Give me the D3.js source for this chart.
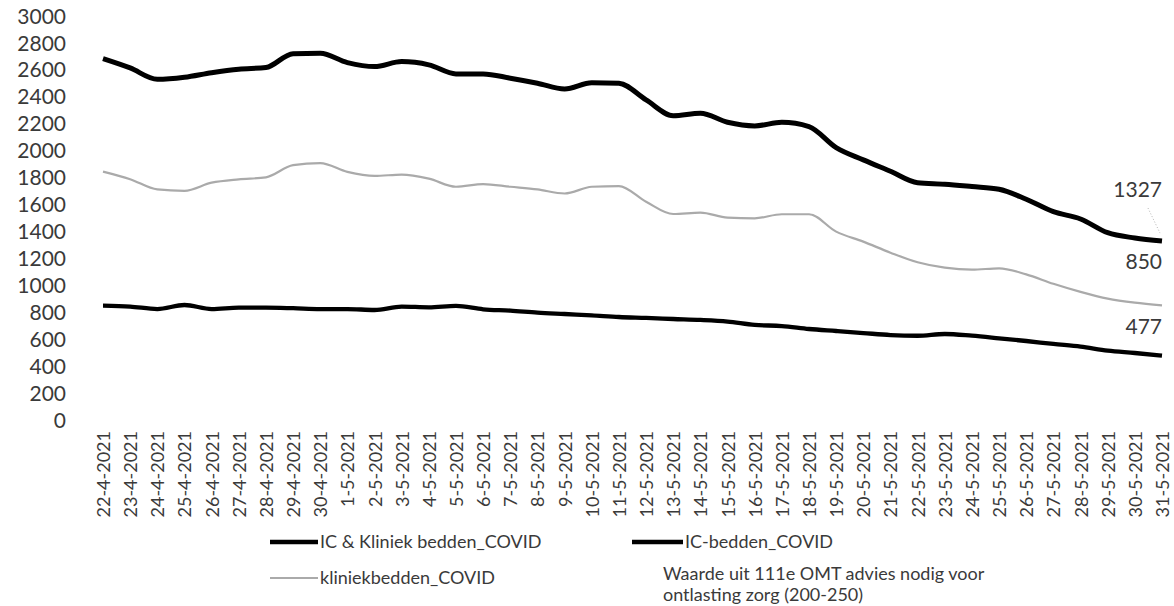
<!DOCTYPE html>
<html>
<head>
<meta charset="utf-8">
<script src="https://cdn.jsdelivr.net/npm/d3@7"></script>
<style>
  html, body { margin: 0; padding: 0; background: #fff; }
  svg { display: block; }
  text { font-family: Lato, "Open Sans", sans-serif; fill: #3a3a3a; }
</style>
</head>
<body>
<svg id="chart" width="1174" height="606"></svg>
<script>
const dates = ["22-4-2021","23-4-2021","24-4-2021","25-4-2021","26-4-2021","27-4-2021","28-4-2021","29-4-2021","30-4-2021",
  "1-5-2021","2-5-2021","3-5-2021","4-5-2021","5-5-2021","6-5-2021","7-5-2021","8-5-2021","9-5-2021","10-5-2021",
  "11-5-2021","12-5-2021","13-5-2021","14-5-2021","15-5-2021","16-5-2021","17-5-2021","18-5-2021","19-5-2021","20-5-2021",
  "21-5-2021","22-5-2021","23-5-2021","24-5-2021","25-5-2021","26-5-2021","27-5-2021","28-5-2021","29-5-2021","30-5-2021","31-5-2021"];

const totalBeds = [2680,2611,2527,2542,2576,2602,2614,2717,2720,2651,2621,2658,2634,2567,2567,2535,2498,2455,2502,2498,
  2374,2257,2275,2208,2181,2208,2176,2020,1929,1845,1760,1749,1731,1711,1637,1545,1491,1389,1350,1327];

const icBeds = [848,841,823,853,823,833,833,829,823,823,816,841,836,846,821,811,796,786,776,764,
  757,749,742,730,705,697,675,660,645,630,625,638,625,606,586,564,544,515,497,477];

const clinicBeds = [1842,1786,1710,1700,1760,1785,1800,1890,1905,1840,1810,1820,1790,1730,1750,1730,1710,1680,1730,1735,
  1619,1528,1538,1501,1496,1526,1526,1397,1323,1241,1170,1130,1115,1125,1080,1010,950,900,870,850];

const yTicks = [0,200,400,600,800,1000,1200,1400,1600,1800,2000,2200,2400,2600,2800,3000];

const seriesNames = ["IC & Kliniek bedden_COVID","IC-bedden_COVID","kliniekbedden_COVID"];
const omtNote = ["Waarde uit 111e OMT advies nodig voor","ontlasting zorg (200-250)"];

const svg = d3.select("#chart");
svg.append("rect").attr("width",1174).attr("height",606).attr("fill","#fff");

const x = d3.scalePoint().domain(dates).range([103, 1162]);
const y = d3.scaleLinear().domain([0, 3000]).range([420, 15.5]);

// Y axis (labels only)
const yAxis = d3.axisLeft(y).tickValues(yTicks).tickSize(0).tickPadding(0).tickFormat(d3.format("d"));
const gy = svg.append("g").attr("transform","translate(66,0)").call(yAxis);
gy.select(".domain").remove();
gy.selectAll("text").style("font-size","21px").attr("fill","#3a3a3a").attr("dy","0.36em");

// X axis (rotated labels only)
const xAxis = d3.axisBottom(x).tickSize(0).tickPadding(0);
const gx = svg.append("g").attr("transform","translate(0,431)").call(xAxis);
gx.select(".domain").remove();
gx.selectAll("text")
  .style("font-size","18px")
  .attr("fill","#3a3a3a")
  .attr("text-anchor","end")
  .attr("transform","rotate(-90)")
  .attr("x",0).attr("y",0).attr("dx",0).attr("dy","0.36em");

const line = d3.line().x((d,i)=>x(dates[i])).y(d=>y(d)).curve(d3.curveMonotoneX);

svg.append("path").datum(clinicBeds).attr("d",line)
  .attr("fill","none").attr("stroke","#aaaaaa").attr("stroke-width",2.2);
svg.append("path").datum(icBeds).attr("d",line)
  .attr("fill","none").attr("stroke","#000").attr("stroke-width",4.3).attr("stroke-linejoin","round");
svg.append("path").datum(totalBeds).attr("d",line)
  .attr("fill","none").attr("stroke","#000").attr("stroke-width",5).attr("stroke-linejoin","round");

// End data labels
const last = dates.length - 1;
const lx = x(dates[last]);
svg.append("line")
  .attr("x1", lx - 14).attr("y1", y(totalBeds[last]) - 33)
  .attr("x2", lx - 2).attr("y2", y(totalBeds[last]) - 8)
  .attr("stroke","#b5b5b5").attr("stroke-width",1).attr("stroke-dasharray","1,2");
const labelData = [
  {v: totalBeds[last], dy: -52},
  {v: clinicBeds[last], dy: -44},
  {v: icBeds[last], dy: -29}
];
svg.selectAll("text.dl").data(labelData).enter().append("text")
  .attr("class","dl")
  .attr("x", lx)
  .attr("y", d => y(d.v) + d.dy)
  .attr("text-anchor","end")
  .attr("dy","0.36em")
  .style("font-size","21px")
  .text(d => d.v);

// Legend
const lg = svg.append("g");
const legendItems = [
  {name: seriesNames[0], x1: 270, x2: 318, y: 542, stroke: "#000", w: 4.5},
  {name: seriesNames[1], x1: 632, x2: 683, y: 542, stroke: "#000", w: 4.5},
  {name: seriesNames[2], x1: 270, x2: 318, y: 578, stroke: "#aaaaaa", w: 2}
];
legendItems.forEach(it => {
  lg.append("line").attr("x1",it.x1).attr("x2",it.x2).attr("y1",it.y).attr("y2",it.y)
    .attr("stroke",it.stroke).attr("stroke-width",it.w);
  lg.append("text").attr("x",it.x2 + 2).attr("y",it.y).attr("dy","0.36em")
    .style("font-size","18px").text(it.name);
});
omtNote.forEach((t,i) => {
  lg.append("text").attr("x",663).attr("y",574 + i*21).attr("dy","0.36em")
    .style("font-size","18px").text(t);
});
</script>
</body>
</html>
